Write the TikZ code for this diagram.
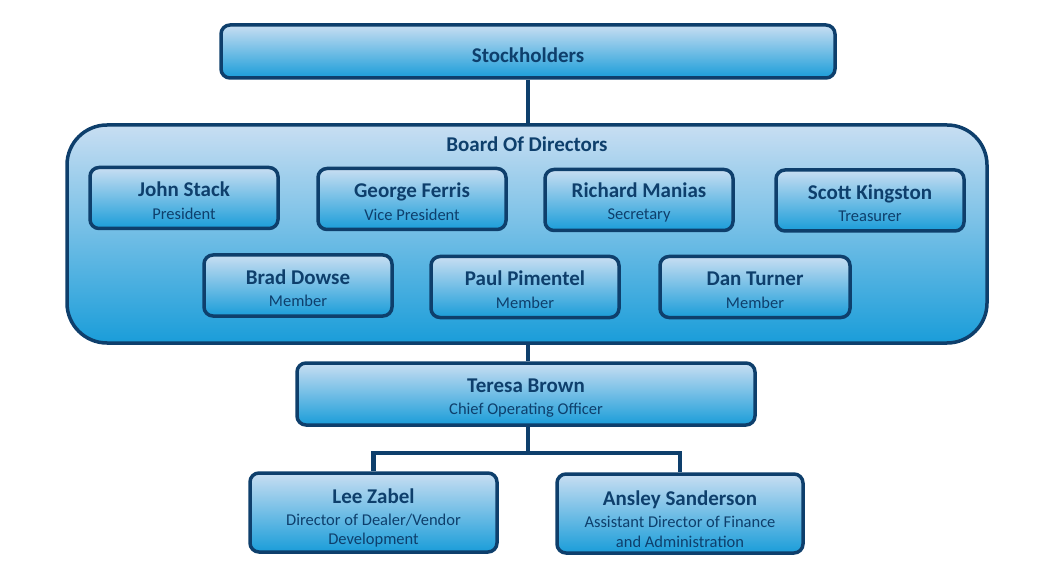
\documentclass[tikz,border=0pt]{standalone}
\usepackage{fontspec}
\usetikzlibrary{calc}
\setmainfont{Carlito}
\definecolor{navy}{HTML}{0E3F6C}
\definecolor{topc}{HTML}{C8DEF2}
\definecolor{botc}{HTML}{1A9DD9}
\newcommand{\nmf}{\fontsize{21}{24}\selectfont\bfseries}
\newcommand{\sbf}{\fontsize{16.5}{20}\selectfont\mdseries}
\newcommand{\topstrut}[1]{\rule{0pt}{\dimexpr 16pt+#1pt\relax}}
\newcommand{\nm}[3][4]{{\nmf\topstrut{#1}#2}\\[-1.5pt]\sbf #3}
\begin{document}
\begin{tikzpicture}[x=1pt,y=-1pt,
  box/.style={draw=navy, line width=3.5pt, rounded corners=9pt, top color=topc, bottom color=botc,
    text=navy, align=center, inner sep=0pt, font=\fontsize{21}{24}\selectfont},
  conn/.style={draw=navy, line width=4.5pt}]
\useasboundingbox (0,0) rectangle (1062,585);
% Stockholders
\node[box, minimum width=614pt, minimum height=53pt] (stock) at (528,51.5) {\nmf\topstrut{6}Stockholders};
% Board
\node[box, rounded corners=40pt, minimum width=920pt, minimum height=218pt] (board) at (527,234) {};
\node[text=navy, font=\nmf] (btitle) at (527,144) {Board Of Directors};
% Directors
\node[box, minimum width=188pt, minimum height=61pt] (john) at (184,198) {\nm{John Stack}{President}};
\node[box, minimum width=188pt, minimum height=61pt] (george) at (412,199) {\nm{George Ferris}{Vice President}};
\node[box, minimum width=188pt, minimum height=61pt] (richard) at (639,200) {\nm{Richard Manias}{Secretary}};
\node[box, minimum width=188pt, minimum height=61pt] (scott) at (870,200.5) {\nm{Scott Kingston}{Treasurer}};
\node[box, minimum width=188pt, minimum height=61pt] (brad) at (298,285.5) {\nm{Brad Dowse}{Member}};
\node[box, minimum width=188pt, minimum height=61pt] (paul) at (525,287) {\nm{Paul Pimentel}{Member}};
\node[box, minimum width=190pt, minimum height=61pt] (dan) at (755,287) {\nm{Dan Turner}{Member}};
% COO
\node[box, minimum width=458pt, minimum height=62pt] (teresa) at (526,394) {\nm[6]{Teresa Brown}{Chief Operating Officer}};
% Reports
\node[box, minimum width=247pt, minimum height=79pt] (lee) at (373.5,512.5)
  {{\nmf\topstrut{10}Lee Zabel}\\[-2pt]\sbf Director of Dealer/Vendor\\[-4.5pt]\sbf Development};
\node[box, minimum width=246pt, minimum height=79pt] (ansley) at (680,513.5)
  {{\nmf\topstrut{10}Ansley Sanderson}\\[-2pt]\sbf Assistant Director of Finance\\[-4.5pt]\sbf and Administration};
% Connectors
\draw[conn] (stock.south) -- (stock.south |- board.north);
\draw[conn] (board.south -| stock.south) -- (teresa.north -| stock.south);
\coordinate (split) at ($(teresa.south -| stock.south)+(0,26)$);
\draw[conn] (teresa.south -| stock.south) -- (split);
\draw[conn] (lee.north) |- (split) -| (ansley.north);
\end{tikzpicture}
\end{document}
